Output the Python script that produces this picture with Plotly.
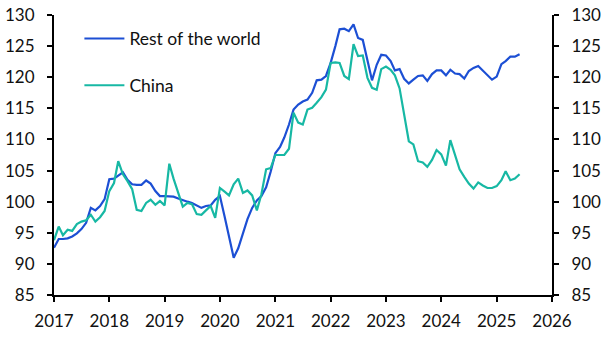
import plotly.graph_objects as go
import pandas as pd

months = pd.date_range("2017-01-01", "2025-06-01", freq="MS")

rest_of_world = [
    92.6, 94.0, 94.0, 94.1, 94.4, 94.9, 95.6, 96.6, 99.0, 98.6, 99.3, 100.4,
    103.6, 103.7, 104.2, 104.7, 103.5, 102.8, 102.7, 102.7, 103.4, 102.9, 101.7, 100.9,
    100.9, 100.9, 100.8, 100.5, 100.2, 100.0, 99.8, 99.4, 99.0, 99.3, 99.4, 100.3,
    100.9, 97.6, 94.3, 91.0, 92.5, 95.1, 97.2, 99.0, 100.2, 100.9, 102.3, 104.8,
    107.8, 108.8, 110.3, 112.4, 114.8, 115.6, 116.1, 116.4, 117.5, 119.5, 119.6, 120.2,
    122.3, 125.0, 127.7, 127.8, 127.4, 128.5, 126.3, 126.0, 122.6, 119.5, 122.0, 123.6,
    123.5, 122.6, 121.1, 121.3, 119.75, 119.0, 119.6, 120.2, 120.3, 119.4, 120.5, 121.1,
    121.1, 120.3, 121.2, 120.6, 120.5, 119.8, 121.0, 121.5, 121.8, 121.1, 120.3, 119.6,
    120.1, 122.1, 122.6, 123.3, 123.3, 123.7,
]

china = [
    93.8, 96.0, 94.6, 95.5, 95.3, 96.4, 96.8, 97.0, 97.9, 96.8, 97.5, 98.5,
    101.7, 103.0, 106.5, 104.4, 103.3, 102.0, 98.7, 98.5, 99.8, 100.3, 99.5, 100.1,
    99.4, 106.1, 103.7, 101.3, 99.2, 99.8, 99.6, 98.0, 97.9, 98.6, 99.3, 97.4,
    102.2, 101.6, 101.0, 102.8, 103.7, 101.4, 101.8, 101.0, 98.6, 101.2, 105.2, 105.4,
    107.5, 107.5, 107.5, 108.5, 114.3, 112.7, 112.4, 114.8, 115.1, 115.9, 116.8, 118.0,
    122.3, 122.4, 122.3, 120.2, 119.7, 125.3, 123.4, 123.5, 119.9, 118.3, 118.0, 121.3,
    121.7, 121.2, 120.3, 118.2, 113.9, 109.7, 109.2, 106.5, 106.3, 105.6, 106.7, 108.3,
    107.6, 105.8, 109.9, 107.6, 105.2, 104.0, 102.9, 102.1, 103.1, 102.6, 102.2, 102.2,
    102.5, 103.45, 104.9, 103.45, 103.7, 104.4,
]

y_ticks = [85, 90, 95, 100, 105, 110, 115, 120, 125, 130]
x_ticks = [f"{y}-01-01" for y in range(2017, 2027)]
x_labels = [str(y) for y in range(2017, 2027)]

BLUE = "#1c4fd4"
TEAL = "#17b8a4"
FONT = "Lato"

fig = go.Figure()
fig.add_trace(go.Scatter(x=months, y=rest_of_world, mode="lines", name="Rest of the world",
                         line=dict(color=BLUE, width=2.2), legendgroup="a"))
fig.add_trace(go.Scatter(x=months, y=china, mode="lines", name="China",
                         line=dict(color=TEAL, width=2.2), legendgroup="b"))
# invisible trace so that the right-hand axis is drawn
fig.add_trace(go.Scatter(x=months, y=china, mode="lines", yaxis="y2", showlegend=False,
                         hoverinfo="skip", opacity=0, line=dict(width=0)))

axis_common = dict(showgrid=False, zeroline=False, showline=True, linecolor="black",
                   linewidth=2, ticks="outside", ticklen=5, tickwidth=2, tickcolor="black",
                   automargin=False,
                   tickfont=dict(family=FONT, size=17, color="#111111"))

fig.update_layout(
    width=606, height=340,
    margin=dict(l=54, r=54, t=15, b=45, autoexpand=False),
    paper_bgcolor="white", plot_bgcolor="white",
    font=dict(family=FONT, size=17, color="#111111"),
    showlegend=True,
    legend=dict(x=0.051, y=0.98, xanchor="left", yanchor="top", bgcolor="rgba(0,0,0,0)",
                font=dict(family=FONT, size=17.5, color="#111111"), tracegroupgap=21,
                itemwidth=40),
    xaxis=dict(range=["2017-01-01", "2026-01-01"], tickvals=x_ticks, ticktext=x_labels,
               ticklabelstandoff=5, **axis_common),
    yaxis=dict(range=[85, 130], tickvals=y_ticks, ticklabelstandoff=9, **axis_common),
    yaxis2=dict(range=[85, 130], tickvals=y_ticks, overlaying="y", side="right",
                anchor="x", ticklabelstandoff=9, **axis_common),
)

fig.write_html("out.html")
